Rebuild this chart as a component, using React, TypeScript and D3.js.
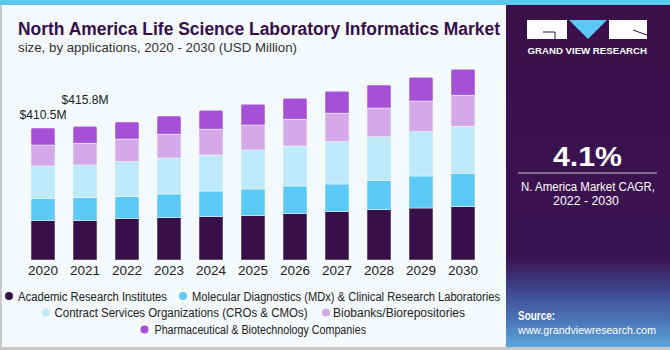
import React from "react";
import * as d3 from "d3";

const years = ["2020","2021","2022","2023","2024","2025","2026","2027","2028","2029","2030"];
const seriesNames = [
  "Academic Research Institutes",
  "Molecular Diagnostics (MDx) & Clinical Research Laboratories",
  "Contract Services Organizations (CROs & CMOs)",
  "Biobanks/Biorepositories",
  "Pharmaceutical & Biotechnology Companies",
];
const academic = [122.2,122.2,128.4,131.6,134.7,137.8,144.0,150.2,156.4,161.7,165.8];
const molecular = [69.7,71.5,69.7,73.7,79.9,83.0,86.1,86.1,90.2,99.5,103.9];
const contract = [100.5,101.7,107.6,112.0,112.0,121.3,124.4,131.6,136.8,137.8,146.2];
const biobanks = [65.3,67.5,70.6,73.7,79.9,77.8,83.0,88.3,89.3,95.5,96.4];
const pharma = [52.9,52.9,52.9,56.9,59.1,64.4,65.3,68.4,71.5,73.7,80.9];
const valueLabels = [
  { year: "2020", text: "$410.5M", lift: 9 },
  { year: "2021", text: "$415.8M", lift: 22 },
];
const colors = ["#37104a", "#5bc9f5", "#bde9f9", "#d5a8ea", "#a64fd7"];

const W = 670, H = 350;
const font = "'Liberation Sans', Arial, sans-serif";

export default function App() {
  const seriesVals = [academic, molecular, contract, biobanks, pharma];
  const rows = years.map((y, i) => {
    const r: any = { year: y };
    seriesNames.forEach((s, k) => (r[s] = seriesVals[k][i]));
    return r;
  });
  const stack = d3.stack<any>().keys(seriesNames)(rows);
  const x = d3.scaleBand().domain(years).range([22, 484]).paddingInner(0.4286).paddingOuter(0.2143);
  const y = d3.scaleLinear().domain([0, 410.5]).range([260, 128]);
  const totals = rows.map((r) => seriesNames.reduce((a, s) => a + r[s], 0));

  const legendItems = [
    { k: 0, cx: 9, cy: 296, tx: 18, len: 149 },
    { k: 1, cx: 183, cy: 296, tx: 192, len: 308 },
    { k: 2, cx: 46, cy: 312.5, tx: 54.5, len: 253 },
    { k: 3, cx: 326, cy: 312.5, tx: 333, len: 132 },
    { k: 4, cx: 144.5, cy: 329.5, tx: 154.5, len: 211.5 },
  ];

  return (
    <svg width={W} height={H} style={{ position: "absolute", left: 0, top: 0 }} fontFamily={font}>
      <defs>
        <linearGradient id="panelGrad" x1="0" y1="0" x2="0" y2="1">
          <stop offset="0" stopColor="#3a1049" />
          <stop offset="0.74" stopColor="#3a1352" />
          <stop offset="0.82" stopColor="#3e3f86" />
          <stop offset="0.92" stopColor="#4a73b8" />
          <stop offset="1" stopColor="#5aa6dc" />
        </linearGradient>
        <pattern id="grid" width="9" height="7" patternUnits="userSpaceOnUse">
          <path d="M0 0 H9 M0 0 V7" stroke="#8fb6e8" strokeWidth="0.5" opacity="0.35" />
        </pattern>
        <linearGradient id="gridMask" x1="0" y1="0" x2="0" y2="1">
          <stop offset="0" stopColor="white" stopOpacity="0" />
          <stop offset="1" stopColor="white" stopOpacity="1" />
        </linearGradient>
        <mask id="gm">
          <rect x="506" y="280" width="164" height="70" fill="url(#gridMask)" />
        </mask>
      </defs>
      <rect x={0} y={0} width={W} height={H} fill="#f4f9fc" />
      <rect x={0} y={0} width={2} height={H} fill="#c8c8c8" />
      <rect x={0} y={347} width={W} height={3} fill="#c8c8c8" />
      <rect x={0} y={0} width={W} height={5} fill="#5bc8f0" />

      <text x={18} y={35} fontSize={17.5} fontWeight="bold" fill="#37104a"
        textLength={482} lengthAdjust="spacingAndGlyphs">
        North America Life Science Laboratory Informatics Market
      </text>
      <text x={18} y={52} fontSize={13} fill="#333" textLength={279} lengthAdjust="spacingAndGlyphs">
        size, by applications, 2020 - 2030 (USD Million)
      </text>

      {stack.map((layer, k) => (
        <g key={k} fill={colors[k]}>
          {layer.map((d, i) => {
            const top = k === stack.length - 1;
            const x0 = x(years[i])!;
            const bw = x.bandwidth();
            const yy = y(d[1]);
            const hh = y(d[0]) - y(d[1]);
            return top ? (
              <path key={i}
                d={`M${x0},${yy + hh} V${yy + 1.5} Q${x0},${yy} ${x0 + 1.5},${yy} H${x0 + bw - 1.5} Q${x0 + bw},${yy} ${x0 + bw},${yy + 1.5} V${yy + hh} Z`}
                stroke="#f4f9fc" strokeWidth={0.5} />
            ) : (
              <rect key={i} x={x0} y={yy} width={bw} height={hh}
                stroke="#f4f9fc" strokeWidth={0.5} />
            );
          })}
        </g>
      ))}

      {valueLabels.map((v) => {
        const i = years.indexOf(v.year);
        return (
          <text key={v.year} x={x(v.year)! + x.bandwidth() / 2} y={y(totals[i]) - v.lift} fontSize={13}
            textAnchor="middle" fill="#222" textLength={47} lengthAdjust="spacingAndGlyphs">{v.text}</text>
        );
      })}

      {years.map((yr) => (
        <text key={yr} x={x(yr)! + x.bandwidth() / 2} y={275} fontSize={13.5} textAnchor="middle" fill="#222">{yr}</text>
      ))}

      {legendItems.map((l) => (
        <g key={l.k}>
          <circle cx={l.cx} cy={l.cy} r={4} fill={colors[l.k]} />
          <text x={l.tx} y={l.cy + 4.5} fontSize={12.5} fill="#222" textLength={l.len}
            lengthAdjust="spacingAndGlyphs">{seriesNames[l.k]}</text>
        </g>
      ))}

      {/* Right panel */}
      <rect x={506} y={5} width={164} height={342} fill="url(#panelGrad)" />
      <rect x={506} y={280} width={164} height={67} fill="url(#grid)" mask="url(#gm)" />
      <g>
        <rect x={527} y={20} width={40} height={19} fill="#ffffff" />
        <path d="M543 32 H555 V39" stroke="#3a1049" strokeWidth={1} fill="none" />
        <path d="M569 20 H607 L588 39 Z" fill="#5bc8f5" />
        <rect x={609} y={20} width={38} height={19} fill="#ffffff" />
        <path d="M633 30 L647 35" stroke="#3a1049" strokeWidth={1} />
        <text x={587.25} y={54} fontSize={9.5} fontWeight="bold" fill="#ffffff" textAnchor="middle"
          textLength={119.5} lengthAdjust="spacingAndGlyphs">
          GRAND VIEW RESEARCH
        </text>
      </g>
      <text x={587.5} y={166} fontSize={27} fontWeight="bold" fill="#ffffff" textAnchor="middle"
        textLength={69} lengthAdjust="spacingAndGlyphs">4.1%</text>
      <line x1={518} x2={657} y1={173} y2={173} stroke="#c9bfd2" strokeWidth={1} />
      <text x={588} y={191} fontSize={12.5} fill="#ffffff" textAnchor="middle"
        textLength={134} lengthAdjust="spacingAndGlyphs">N. America Market CAGR,</text>
      <text x={586} y={205} fontSize={12.5} fill="#ffffff" textAnchor="middle"
        textLength={66} lengthAdjust="spacingAndGlyphs">2022 - 2030</text>
      <text x={518} y={320} fontSize={12.5} fontWeight="bold" fill="#ffffff" textLength={37} lengthAdjust="spacingAndGlyphs">Source:</text>
      <text x={587} y={334} fontSize={11.5} fill="#ffffff" textAnchor="middle"
        textLength={138} lengthAdjust="spacingAndGlyphs">www.grandviewresearch.com</text>
    </svg>
  );
}
